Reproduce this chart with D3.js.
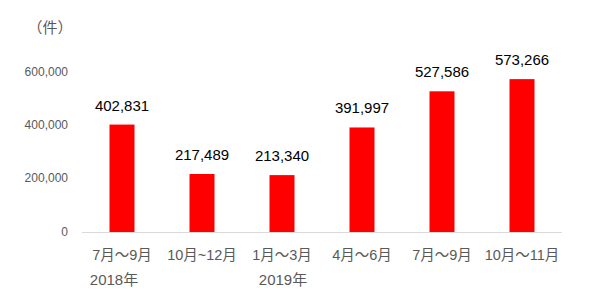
<!DOCTYPE html>
<html>
<head>
<meta charset="utf-8">
<script src="https://cdn.jsdelivr.net/npm/d3@7"></script>
<style>
  body { margin: 0; background: #fff; }
  svg { display: block; }
</style>
</head>
<body>
<svg id="chart" width="599" height="304"></svg>
<script>
// data
var categories = ["7月～9月", "10月~12月", "1月～3月", "4月～6月", "7月～9月", "10月～11月"];
var values = [402831, 217489, 213340, 391997, 527586, 573266];
var yearLabels = ["2018年", "2019年"];
var yearIndex = [0, 2];
var yTicks = [0, 200000, 400000, 600000];

var font = "'Liberation Sans', Arial, 'Noto Sans CJK JP', sans-serif";

var svg = d3.select("svg#chart");

var x = d3.scaleBand()
  .domain(d3.range(categories.length))
  .range([82, 562])
  .paddingInner(0.6875)
  .paddingOuter(0.34375);

var y = d3.scaleLinear()
  .domain([0, 600000])
  .range([232, 72]);

// y tick labels
svg.append("g")
  .selectAll("text")
  .data(yTicks)
  .join("text")
  .attr("x", 68)
  .attr("y", d => y(d))
  .attr("dy", "0.3em")
  .attr("text-anchor", "end")
  .style("font-family", font)
  .style("font-size", "12px")
  .style("fill", "#595959")
  .text(d => d3.format(",")(d));

// unit
svg.append("text")
  .attr("x", 50)
  .attr("y", 28)
  .attr("dy", "0.35em")
  .attr("text-anchor", "middle")
  .style("font-family", "'Noto Sans CJK JP', sans-serif")
  .style("font-size", "15px")
  .style("fill", "#595959")
  .text("（件）");

// bars
svg.append("g")
  .selectAll("rect")
  .data(values)
  .join("rect")
  .attr("x", (d, i) => x(i))
  .attr("y", d => y(d))
  .attr("width", x.bandwidth())
  .attr("height", d => y(0) - y(d))
  .attr("fill", "#ff0000");

// baseline
svg.append("line")
  .attr("x1", 82)
  .attr("x2", 562)
  .attr("y1", y(0) + 0.5)
  .attr("y2", y(0) + 0.5)
  .attr("stroke", "#d9d9d9")
  .attr("stroke-width", 1);

// value labels
svg.append("g")
  .selectAll("text")
  .data(values)
  .join("text")
  .attr("x", (d, i) => x(i) + x.bandwidth() / 2)
  .attr("y", d => y(d) - 14)
  .attr("text-anchor", "middle")
  .style("font-family", font)
  .style("font-size", "15px")
  .style("fill", "#000")
  .text(d => d3.format(",")(d));

// category labels
svg.append("g")
  .selectAll("text")
  .data(categories)
  .join("text")
  .attr("x", (d, i) => x(i) + x.bandwidth() / 2)
  .attr("y", 255)
  .attr("dy", "0.35em")
  .attr("text-anchor", "middle")
  .style("font-family", font)
  .style("font-size", "14.5px")
  .style("fill", "#595959")
  .text(d => d);

// year labels (Excel places them slightly off the first bar's centre)
var yearShift = [-8, 1];
svg.append("g")
  .selectAll("text")
  .data(yearLabels)
  .join("text")
  .attr("x", (d, i) => x(yearIndex[i]) + x.bandwidth() / 2 + yearShift[i])
  .attr("y", 280)
  .attr("dy", "0.35em")
  .attr("text-anchor", "middle")
  .style("font-family", font)
  .style("font-size", "15px")
  .style("fill", "#595959")
  .text(d => d);
</script>
</body>
</html>
